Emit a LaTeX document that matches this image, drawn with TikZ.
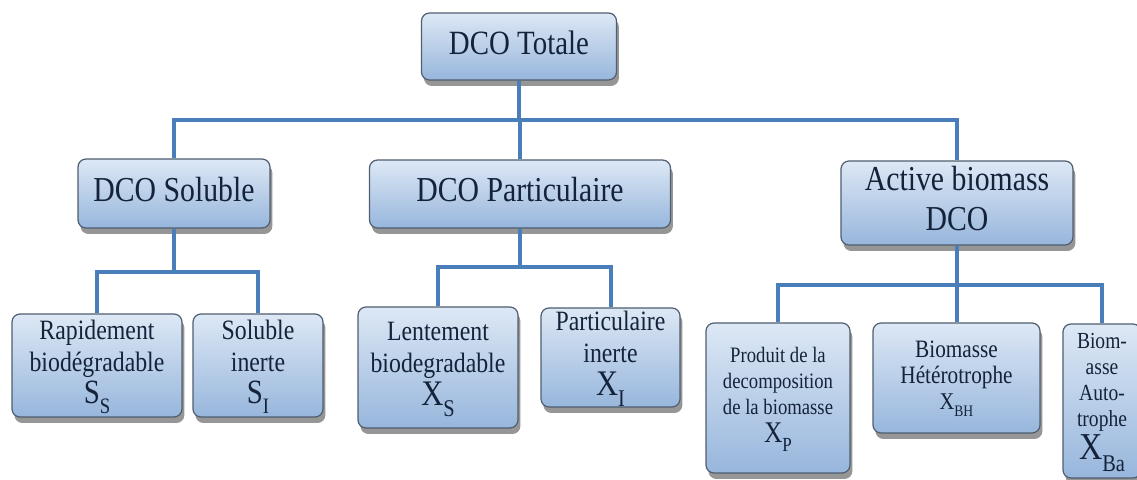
\documentclass[tikz,border=0pt]{standalone}
\usepackage{graphicx}
\usepackage{fontspec}
\setmainfont{Liberation Serif}
\usetikzlibrary{shadows}

\definecolor{boxtop}{HTML}{DDE8F5}
\definecolor{boxbot}{HTML}{97B6DC}
\definecolor{edge}{HTML}{4F5E70}
\definecolor{link}{HTML}{4A7EBB}
\definecolor{ink}{HTML}{14233A}

\newcommand{\cond}[1]{\scalebox{0.85}[1]{\begin{tabular}{@{}c@{}}#1\end{tabular}}}
\newcommand{\symb}[4]{{\fontsize{#1}{#1}\selectfont #3\raisebox{-0.3em}{\fontsize{#2}{#2}\selectfont #4}}}

\begin{document}
\begin{tikzpicture}[x=0.5pt,y=-0.5pt,
    box/.style={draw=edge, line width=0.6pt, rounded corners=4pt,
      top color=boxtop, bottom color=boxbot, text=ink, align=center, inner sep=0pt,
      drop shadow={shadow xshift=1.2pt, shadow yshift=-3pt, opacity=0.55, fill=black!75}},
    dims/.style 2 args={minimum width=#1*0.5pt, minimum height=#2*0.5pt},
    wire/.style={draw=link, line width=2pt}]
    \useasboundingbox (0,0) rectangle (1137,480);

    \node[box, dims={195}{67}, font=\fontsize{17}{20}\selectfont] (tot) at (519,46.5) {\cond{DCO Totale}};

    \node[box, dims={192}{69}, font=\fontsize{17.5}{20}\selectfont] (sol) at (174,193.5) {\cond{DCO Soluble}};
    \node[box, dims={301}{68}, font=\fontsize{17.5}{20}\selectfont] (par) at (520,194) {\cond{DCO Particulaire}};
    \node[box, dims={232}{84}, font=\fontsize{17.5}{20}\selectfont] (act) at (957,203) {\cond{Active biomass\\DCO}};

    \node[box, dims={170}{103}, font=\fontsize{14}{16}\selectfont] (ss) at (97,365.5) {\cond{Rapidement\\biodégradable\\\symb{17}{11}{S}{S}}};
    \node[box, dims={130}{103}, font=\fontsize{14}{16}\selectfont] (si) at (258,365.5) {\cond{Soluble\\inerte\\\symb{17}{11}{S}{I}}};
    \node[box, dims={160}{121}, font=\fontsize{14}{16}\selectfont] (xs) at (438,367.5) {\cond{Lentement\\biodegradable\\\symb{18}{12}{X}{S}}};
    \node[box, dims={139}{99}, font=\fontsize{14}{16}\selectfont] (xi) at (610.5,357.5) {\cond{Particulaire\\inerte\\\symb{18}{12}{X}{I}}};
    \node[box, dims={144}{150}, font=\fontsize{11}{13}\selectfont] (xp) at (778,398) {\cond{Produit de la\\decomposition\\de la biomasse\\\symb{15}{10}{X}{P}}};
    \node[box, dims={167}{110}, font=\fontsize{12.5}{13}\selectfont] (xbh) at (956.5,378) {\cond{Biomasse\\Hétérotrophe\\\symb{12}{8}{X}{BH}}};
    \node[box, dims={78}{154}, font=\fontsize{11.5}{13}\selectfont] (xba) at (1102,401) {\cond{Biom-\\asse\\Auto-\\trophe\\\symb{19}{12}{X}{Ba}}};

    \coordinate (bus0) at (0,120);
    \coordinate (bus1) at (0,272);
    \coordinate (bus2) at (0,267);
    \coordinate (bus3) at (0,285);

    \draw[wire] (tot.south) -- (tot.south |- bus0);
    \draw[wire] (sol.north) |- (act.north |- bus0) -- (act.north);
    \draw[wire] (par.north) -- (par.north |- bus0);

    \draw[wire] (sol.south) -- (sol.south |- bus1);
    \draw[wire] (ss.north) |- (si.north |- bus1) -- (si.north);

    \draw[wire] (par.south) -- (par.south |- bus2);
    \draw[wire] (xs.north) |- (xi.north |- bus2) -- (xi.north);

    \draw[wire] (act.south) -- (act.south |- bus3);
    \draw[wire] (xp.north) |- (xba.north |- bus3) -- (xba.north);
    \draw[wire] (xbh.north) -- (xbh.north |- bus3);
\end{tikzpicture}
\end{document}
